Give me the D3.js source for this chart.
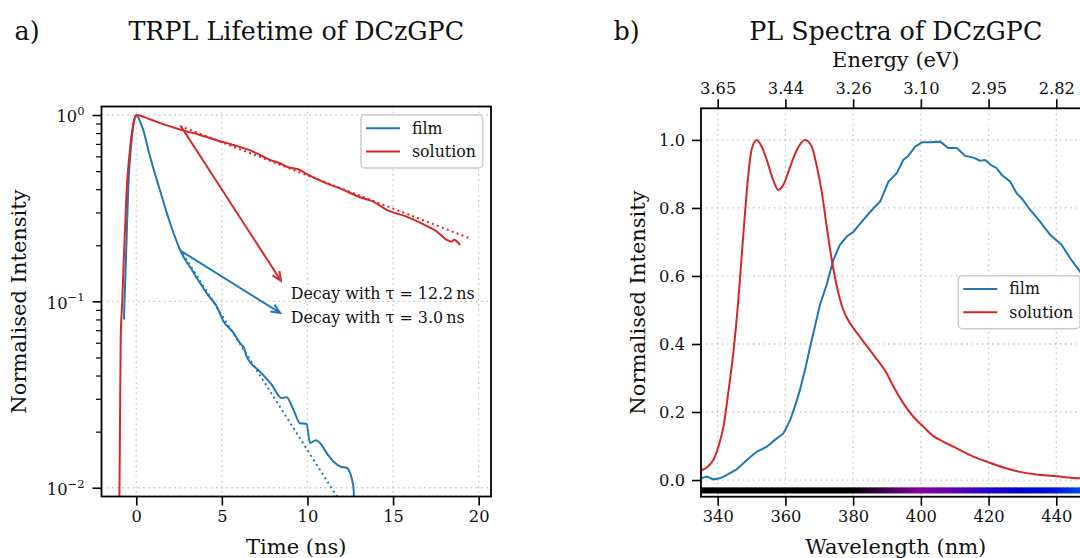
<!DOCTYPE html>
<html>
<head>
<meta charset="utf-8">
<script src="https://cdn.jsdelivr.net/npm/d3@7"></script>
<style>
  body { margin: 0; background: #fff; }
  svg { display: block; }
  text { font-family: "DejaVu Serif", serif; fill: #111; }
</style>
</head>
<body>
<svg id="fig" width="1080" height="558"></svg>
<script>
// ---- TRPL decay traces (time in ns, normalised counts) ----
const filmTime  = [-0.72, -0.6, -0.47, -0.27, -0.08, 0, 0.2, 0.41, 0.8, 1.38, 1.97, 2.65, 3.2, 3.73, 4.2, 4.7, 5.1, 5.67, 6.06, 6.3, 6.45, 7.23, 7.91, 8.49, 8.78, 9.2, 9.56, 9.95, 10.15, 10.5, 10.73, 11.2, 11.6, 11.9, 12.29, 12.68, 12.75];
const filmDecay = [0.080, 0.17, 0.396, 0.735, 0.963, 1.0, 0.93, 0.83, 0.60, 0.396, 0.264, 0.181, 0.150, 0.125, 0.108, 0.0938, 0.078, 0.068, 0.0597, 0.056, 0.0505, 0.042, 0.0357, 0.0303, 0.0306, 0.026, 0.0222, 0.0220, 0.0174, 0.0180, 0.0174, 0.0150, 0.0136, 0.0130, 0.0128, 0.0102, 0.007];
const solTime   = [-1.0, -0.91, -0.82, -0.72, -0.56, -0.37, -0.17, 0, 0.8, 1.7, 2.65, 3.72, 4.99, 5.67, 6.83, 7.23, 7.81, 8.4, 8.78, 9.56, 9.95, 11.12, 12.0, 13.07, 13.84, 14.63, 15.79, 16.96, 17.55, 18.13, 18.42, 18.55, 18.91];
const solDecay  = [0.006, 0.062, 0.10, 0.174, 0.396, 0.649, 0.90, 1.0, 0.948, 0.885, 0.831, 0.781, 0.719, 0.690, 0.636, 0.610, 0.574, 0.551, 0.528, 0.507, 0.483, 0.430, 0.400, 0.362, 0.343, 0.310, 0.285, 0.254, 0.237, 0.214, 0.209, 0.214, 0.201];

// ---- mono-exponential fits: I(t) = A exp(-t / tau) ----
const fitNames = ["solution", "film"];
const fitTau   = [12.2, 3.0];
const fitAmp   = [1.076, 0.446];
const fitStart = [2.55, 2.55];
const fitEnd   = [19.6, 12.9];

// ---- steady-state PL spectra (wavelength in nm, normalised) ----
const filmWl = [335, 336.8, 338.7, 340.7, 342.7, 345.6, 348.6, 351.5, 354.5, 356.9, 359.4, 361.4, 362.8, 364.3, 365.8, 367.3, 368.7, 370.2, 372.2, 374.1, 376, 378.1, 380.1, 383.0, 386.0, 388.0, 390.4, 392.9, 394.8, 396.3, 398.3, 400.3, 402.7, 405.7, 408.1, 410.6, 413.1, 415.5, 417.5, 419.0, 420.9, 422.4, 423.9, 426.4, 428.3, 429.8, 432.3, 435.2, 438.2, 440.1, 441.6, 444.1, 447.0, 450.0];
const filmPL = [0.005, 0.010, 0.002, 0.005, 0.015, 0.031, 0.059, 0.083, 0.098, 0.118, 0.137, 0.176, 0.216, 0.265, 0.324, 0.392, 0.451, 0.515, 0.575, 0.645, 0.690, 0.716, 0.730, 0.765, 0.799, 0.819, 0.877, 0.902, 0.941, 0.953, 0.980, 0.993, 0.993, 0.995, 0.976, 0.976, 0.953, 0.948, 0.939, 0.941, 0.925, 0.917, 0.897, 0.877, 0.843, 0.828, 0.794, 0.760, 0.721, 0.704, 0.691, 0.652, 0.613, 0.575];
const solWl = [335, 338.7, 340.2, 341.7, 343.1, 344.6, 346.1, 347.6, 349.0, 350.0, 351.5, 353.0, 354.5, 356.4, 357.9, 359.4, 361.4, 363.4, 365.8, 367.8, 369.3, 370.8, 372.2, 373.7, 375.2, 377.1, 379.1, 382.0, 386.0, 389.9, 391.9, 394.8, 397.8, 400.7, 403.7, 406.6, 409.6, 412.6, 415.5, 419.5, 424.4, 429.3, 434.2, 439.1, 447.0, 450.0];
const solPL = [0.028, 0.059, 0.098, 0.157, 0.255, 0.373, 0.529, 0.726, 0.892, 0.971, 1.0, 0.980, 0.941, 0.882, 0.853, 0.868, 0.921, 0.971, 1.0, 0.980, 0.921, 0.843, 0.745, 0.647, 0.569, 0.500, 0.461, 0.421, 0.368, 0.314, 0.275, 0.226, 0.186, 0.157, 0.129, 0.113, 0.098, 0.083, 0.069, 0.054, 0.037, 0.024, 0.016, 0.012, 0.005, 0.004];

// ---- ticks ----
const timeTicks = [0, 5, 10, 15, 20];
const decadeTicks = [1, 0.1, 0.01];
const decadeExp = ["0", "\u22121", "\u22122"];
const wlTicks = [340, 360, 380, 400, 420, 440];
const energyLabels = ["3.65", "3.44", "3.26", "3.10", "2.95", "2.82"];
const plTicks = [0.0, 0.2, 0.4, 0.6, 0.8, 1.0];

const BLUE = "#1f77b4", RED = "#d62728";
const TICK_FS = 16.3, LABEL_FS = 21, TITLE_FS = 25.4, LEGEND_FS = 15.8, NOTE_FS = 15.9;
const svg = d3.select("#fig");
const defs = svg.append("defs");

// ================= panel a) TRPL =================
const A = { l: 101.5, r: 491, t: 106.5, b: 496.5 };
const xA = d3.scaleLinear().domain([-2.03, 20.72]).range([A.l, A.r]);
const yA = d3.scaleLog().domain([Math.pow(10, -2.047), Math.pow(10, 0.0456)]).range([A.b, A.t]);

defs.append("clipPath").attr("id", "clipA").append("rect")
  .attr("x", A.l).attr("y", A.t).attr("width", A.r - A.l).attr("height", A.b - A.t);

const gA = svg.append("g");
const gridStyle = s => s.attr("stroke", "#c8c8c8").attr("stroke-width", 1.3).attr("stroke-dasharray", "1.6,3.6");

// grid
gA.append("g").selectAll("line").data(timeTicks).join("line")
  .attr("x1", d => xA(d)).attr("x2", d => xA(d)).attr("y1", A.t).attr("y2", A.b).call(gridStyle);
gA.append("g").selectAll("line").data(decadeTicks).join("line")
  .attr("y1", d => yA(d)).attr("y2", d => yA(d)).attr("x1", A.l).attr("x2", A.r).call(gridStyle);

// axes
gA.append("g").attr("transform", `translate(0,${A.b})`)
  .call(d3.axisBottom(xA).tickValues(timeTicks).tickFormat(d3.format("d")).tickSize(9).tickPadding(5));
const minorA = [];
[0.01, 0.1].forEach(dec => { for (let k = 2; k <= 9; k++) minorA.push(dec * k); });
const axLeftA = gA.append("g").attr("transform", `translate(${A.l},0)`)
  .call(d3.axisLeft(yA).tickValues(minorA).tickFormat("").tickSize(5.5));
gA.append("g").attr("transform", `translate(${A.l},0)`)
  .call(d3.axisLeft(yA).tickValues(decadeTicks).tickFormat("").tickSize(9));

// decade labels with superscripts
gA.append("g").selectAll("text").data(decadeTicks).join("text")
  .attr("x", 84.5).attr("y", d => yA(d) + 7.3).attr("text-anchor", "end").attr("font-size", TICK_FS)
  .each(function (d, i) {
    const t = d3.select(this);
    t.append("tspan").text("10");
    t.append("tspan").attr("dy", -7.5).attr("font-size", 11.5).text(decadeExp[i]);
  });

// curves
const lineA = (xs, ys) => d3.line().curve(d3.curveMonotoneX).x((d, i) => xA(xs[i])).y((d, i) => yA(ys[i]))(xs);
const plotA = gA.append("g").attr("clip-path", "url(#clipA)");
plotA.append("path").attr("d", lineA(filmTime, filmDecay)).attr("fill", "none").attr("stroke", BLUE).attr("stroke-width", 2);
plotA.append("path").attr("d", lineA(solTime, solDecay)).attr("fill", "none").attr("stroke", RED).attr("stroke-width", 2);

// fitted exponentials
const fitColors = [RED, BLUE];
fitTau.forEach((tau, i) => {
  const ts = d3.range(fitStart[i], fitEnd[i] + 0.001, 0.1);
  const vs = ts.map(t => fitAmp[i] * Math.exp(-t / tau));
  plotA.append("path").attr("d", d3.line().x((d, j) => xA(ts[j])).y((d, j) => yA(vs[j]))(ts))
    .attr("fill", "none").attr("stroke", fitColors[i]).attr("stroke-width", 2).attr("stroke-dasharray", "2,3.3");
});

// arrows from the fits to their labels
const arrowEnds = [[8.45, 0.129], [8.4, 0.0867]];
fitTau.forEach((tau, i) => {
  const t0 = fitStart[i] + 0.07, v0 = fitAmp[i] * Math.exp(-t0 / tau);
  const x0 = xA(t0), y0 = yA(v0), x1 = xA(arrowEnds[i][0]), y1 = yA(arrowEnds[i][1]);
  const ang = Math.atan2(y1 - y0, x1 - x0), hl = 10, ha = 0.42;
  const g = gA.append("g").attr("stroke", fitColors[i]).attr("stroke-width", 2).attr("fill", "none");
  g.append("line").attr("x1", x0).attr("y1", y0).attr("x2", x1).attr("y2", y1);
  g.append("path").attr("d", `M${x1 - hl * Math.cos(ang - ha)},${y1 - hl * Math.sin(ang - ha)}L${x1},${y1}L${x1 - hl * Math.cos(ang + ha)},${y1 - hl * Math.sin(ang + ha)}`)
    .attr("stroke-linejoin", "miter");
});
fitTau.forEach((tau, i) => {
  gA.append("text").attr("x", 290.7).attr("y", 298.6 + 24.4 * i).attr("font-size", NOTE_FS)
    .text(`Decay with \u03c4 = ${tau.toFixed(1)}\u2009ns`);
});

// frame
gA.append("rect").attr("x", A.l).attr("y", A.t).attr("width", A.r - A.l).attr("height", A.b - A.t)
  .attr("fill", "none").attr("stroke", "#000").attr("stroke-width", 1.8);

// legend
function legend(g, x, y) {
  g.append("rect").attr("x", x).attr("y", y).attr("width", 121.7).attr("height", 53).attr("rx", 4)
    .attr("fill", "#fff").attr("fill-opacity", 0.85).attr("stroke", "#cccccc").attr("stroke-width", 1.5);
  [["film", BLUE], ["solution", RED]].forEach(([name, c], i) => {
    const yy = y + 13.3 + 23.2 * i;
    g.append("line").attr("x1", x + 5).attr("x2", x + 39).attr("y1", yy).attr("y2", yy).attr("stroke", c).attr("stroke-width", 2);
    g.append("text").attr("x", x + 51).attr("y", yy + 5.3).attr("font-size", LEGEND_FS).text(name);
  });
}
legend(gA, 361, 115);

// titles and labels
svg.append("text").attr("x", 14.5).attr("y", 40).attr("font-size", TITLE_FS).text("a)");
svg.append("text").attr("x", (A.l + A.r) / 2).attr("y", 40).attr("text-anchor", "middle").attr("font-size", TITLE_FS).text("TRPL Lifetime of DCzGPC");
svg.append("text").attr("x", (A.l + A.r) / 2).attr("y", 553.5).attr("text-anchor", "middle").attr("font-size", LABEL_FS).text("Time (ns)");
svg.append("text").attr("transform", `translate(25.5,${(A.t + A.b) / 2}) rotate(-90)`).attr("text-anchor", "middle").attr("font-size", LABEL_FS).text("Normalised Intensity");

// ================= panel b) PL spectra =================
const B = { l: 701, r: 1090.5, t: 108.3, b: 496.7 };
const xB = d3.scaleLinear().domain([335.07, 450.1]).range([B.l, B.r]);
const yB = d3.scaleLinear().domain([-0.049, 1.093]).range([B.b, B.t]);

defs.append("clipPath").attr("id", "clipB").append("rect")
  .attr("x", B.l).attr("y", B.t).attr("width", B.r - B.l).attr("height", B.b - B.t);
const gB = svg.append("g");

gB.append("g").selectAll("line").data(wlTicks).join("line")
  .attr("x1", d => xB(d)).attr("x2", d => xB(d)).attr("y1", B.t).attr("y2", B.b).call(gridStyle);
gB.append("g").selectAll("line").data(plTicks).join("line")
  .attr("y1", d => yB(d)).attr("y2", d => yB(d)).attr("x1", B.l).attr("x2", B.r).call(gridStyle);

// visible-spectrum colour strip under the curves (UV rendered black)
const specStops = [[335, [0, 0, 0]], [380, [0, 0, 0]], [390, [70, 0, 85]], [400, [135, 0, 155]], [410, [95, 0, 180]], [420, [35, 0, 205]], [430, [0, 0, 215]], [440, [0, 20, 225]], [450, [0, 100, 235]]];
const grad = defs.append("linearGradient").attr("id", "spec").attr("gradientUnits", "userSpaceOnUse")
  .attr("x1", xB(335)).attr("x2", xB(450)).attr("y1", 0).attr("y2", 0);
specStops.forEach(([w, c]) => {
  grad.append("stop").attr("offset", (w - 335) / 115).attr("stop-color", `rgb(${c.join(",")})`);
});
gB.append("rect").attr("clip-path", "url(#clipB)")
  .attr("x", xB(335)).attr("width", xB(450) - xB(335))
  .attr("y", yB(-0.0215)).attr("height", yB(-0.0395) - yB(-0.0215)).attr("fill", "url(#spec)");

const lineB = (xs, ys, curve) => d3.line().curve(curve).x((d, i) => xB(xs[i])).y((d, i) => yB(ys[i]))(xs);
const plotB = gB.append("g").attr("clip-path", "url(#clipB)");
plotB.append("path").attr("d", lineB(filmWl, filmPL, d3.curveLinear)).attr("fill", "none").attr("stroke", BLUE).attr("stroke-width", 2);
plotB.append("path").attr("d", lineB(solWl, solPL, d3.curveMonotoneX)).attr("fill", "none").attr("stroke", RED).attr("stroke-width", 2);

gB.append("g").attr("transform", `translate(0,${B.b})`)
  .call(d3.axisBottom(xB).tickValues(wlTicks).tickFormat(d3.format("d")).tickSize(9).tickPadding(5));
gB.append("g").attr("transform", `translate(${B.l},0)`)
  .call(d3.axisLeft(yB).tickValues(plTicks).tickFormat(d3.format(".1f")).tickSize(9).tickPadding(7));
gB.append("g").attr("transform", `translate(0,${B.t})`)
  .call(d3.axisTop(xB).tickValues(wlTicks).tickFormat((d, i) => energyLabels[i]).tickSize(9).tickPadding(5));

gB.append("rect").attr("x", B.l).attr("y", B.t).attr("width", B.r - B.l).attr("height", B.b - B.t)
  .attr("fill", "none").attr("stroke", "#000").attr("stroke-width", 1.8);

legend(gB, 958.3, 275.7);

svg.append("text").attr("x", 613.5).attr("y", 40).attr("font-size", TITLE_FS).text("b)");
svg.append("text").attr("x", (B.l + B.r) / 2).attr("y", 40).attr("text-anchor", "middle").attr("font-size", TITLE_FS).text("PL Spectra of DCzGPC");
svg.append("text").attr("x", (B.l + B.r) / 2).attr("y", 66.7).attr("text-anchor", "middle").attr("font-size", LABEL_FS).text("Energy (eV)");
svg.append("text").attr("x", (B.l + B.r) / 2).attr("y", 553.5).attr("text-anchor", "middle").attr("font-size", LABEL_FS).text("Wavelength (nm)");
svg.append("text").attr("transform", `translate(644.5,${(B.t + B.b) / 2}) rotate(-90)`).attr("text-anchor", "middle").attr("font-size", LABEL_FS).text("Normalised Intensity");

// shared axis styling
svg.selectAll(".domain").remove();
svg.selectAll(".tick line").attr("stroke", "#000").attr("stroke-width", 1.6);
svg.selectAll(".tick text").attr("font-size", TICK_FS).attr("font-family", "DejaVu Serif").attr("fill", "#111");
axLeftA.selectAll(".tick line").attr("stroke-width", 1.2);
</script>
</body>
</html>
